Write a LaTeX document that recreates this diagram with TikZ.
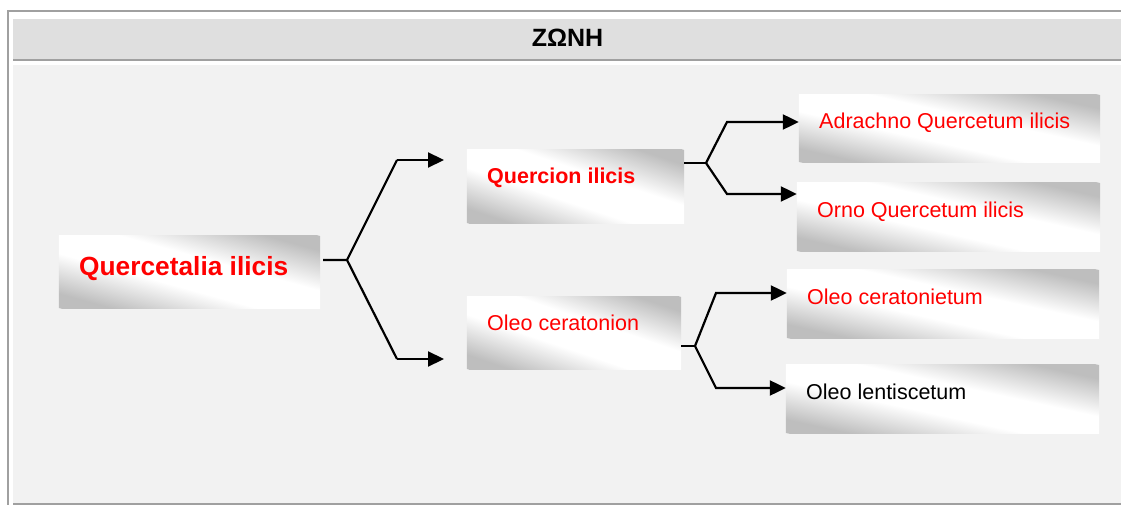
\documentclass[tikz,border=0pt]{standalone}
\usepackage{fontspec}
\setmainfont{Liberation Sans}
\usetikzlibrary{arrows.meta,calc}
\definecolor{frameline}{HTML}{A0A0A0}
\definecolor{headfill}{HTML}{DFDFDF}
\definecolor{bodyfill}{HTML}{F2F2F2}
\definecolor{boxgray}{HTML}{BEBEBE}
\definecolor{txtred}{HTML}{FF0000}
\pgfdeclareverticalshading{graywhite}{100bp}{color(0bp)=(boxgray); color(30bp)=(boxgray); color(44bp)=(white); color(56bp)=(white); color(70bp)=(boxgray); color(100bp)=(boxgray)}
\tikzset{
  slot/.style={inner sep=0pt, rectangle},
  lbl/.style={anchor=base west, inner sep=0pt, text=txtred, font=\fontsize{21.5}{24}\selectfont},
  lblb/.style={lbl, font=\fontsize{21.5}{24}\selectfont\bfseries},
  conn/.style={line width=2.2pt, black},
  arr/.style={conn, -{Triangle[length=16pt, width=15pt]}},
}
\newcommand\gradbox[5]{%
  \node[slot, minimum width=#4pt, minimum height=#5pt] (#1) at (#2,#3) {};
  \pgfmathsetmacro\gbang{-atan(#5/#4)}%
  \pgfmathsetmacro\gbrw{(#4+#5)/2}%
  \pgfmathsetmacro\gbrh{#5*(#4/veclen(#4,#5))}%
  \begin{scope}
    \clip (#1.north west) rectangle (#1.south east);
    \shade[shading=graywhite, transform canvas={rotate around={\gbang:(#1.center)}}]
      ($(#1.center)+(-\gbrw,-\gbrh)$) rectangle ($(#1.center)+(\gbrw,\gbrh)$);
  \end{scope}}
\begin{document}
\begin{tikzpicture}[x=1pt, y=-1pt]
\useasboundingbox (0,0) rectangle (1121,505);
\fill[white] (0,0) rectangle (1121,505);
% frame
\fill[headfill] (13,19) rectangle (1121,59);
\fill[bodyfill] (13,65) rectangle (1121,503);
\draw[frameline, line width=2pt] (8,505) -- (8,11) -- (1121,11);
\draw[frameline, line width=2pt] (13,60) -- (1121,60);
\draw[frameline, line width=2pt] (13,504) -- (1121,504);
\node[font=\fontsize{25}{28}\selectfont\bfseries, anchor=base, inner sep=0pt] (title) at (567.5,47) {ΖΩΝΗ};
% boxes
\gradbox{qa}{189.5}{272}{261}{72}
\gradbox{qi}{575.5}{186.5}{217}{73}
\gradbox{oc}{574}{333}{214}{72}
\gradbox{aq}{949.5}{128.5}{301}{67}
\gradbox{oq}{948.5}{217}{303}{68}
\gradbox{ocn}{943}{304}{312}{68}
\gradbox{ol}{942.5}{399}{313}{68}
% labels
\node[lblb, font=\fontsize{26.3}{30}\selectfont\bfseries] (tqa) at (79,275) {Quercetalia ilicis};
\node[lblb] (tqi) at (487,184) {Quercion ilicis};
\node[lbl] (toc) at (487,330) {Oleo ceratonion};
\node[lbl] (taq) at (819,129) {Adrachno Quercetum ilicis};
\node[lbl] (toq) at (817,217) {Orno Quercetum ilicis};
\node[lbl] (tocn) at (807,304) {Oleo ceratonietum};
\node[lbl, text=black] (tol) at (806,399) {Oleo lentiscetum};
% connectors
\coordinate (j1) at (347,260);
\coordinate (u1) at (397,160);
\coordinate (d1) at (397,359);
\coordinate (ua1) at (444,160);
\coordinate (da1) at (444,359);
\draw[conn] (qa.east |- j1) ++(3,0) -- (j1) -- (u1);
\draw[conn] (j1) -- (d1);
\draw[arr] (u1) -- (ua1);
\draw[arr] (d1) -- (da1);
\coordinate (j2) at (706,163);
\draw[conn] (qi.east |- j2) -- (j2);
\draw[arr] (j2) -- (727,122) -- (aq.west |- 0,122);
\draw[arr] (j2) -- (727,194) -- (oq.west |- 0,194);
\coordinate (j3) at (695,346);
\draw[conn] (oc.east |- j3) -- (j3);
\draw[arr] (j3) -- (716,293) -- (ocn.west |- 0,293);
\draw[arr] (j3) -- (716,388) -- (ol.west |- 0,388);
\end{tikzpicture}
\end{document}
